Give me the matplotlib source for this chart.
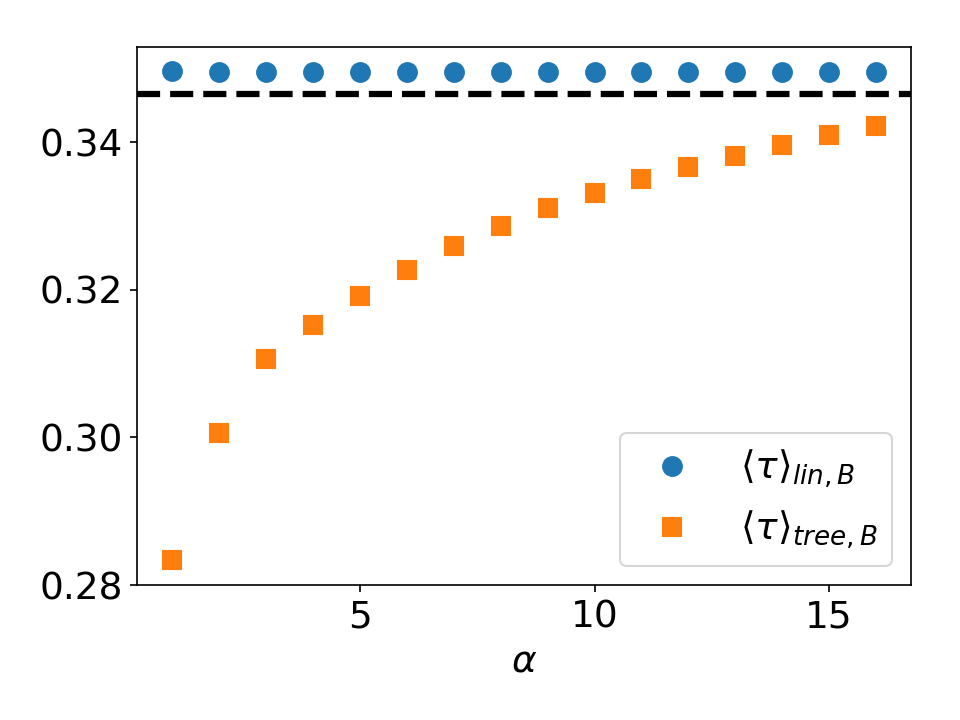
import numpy as np
import matplotlib
matplotlib.use("Agg")
import matplotlib.pyplot as plt

alpha = np.arange(1, 17)
tau_lin = [0.34966, 0.34953, 0.34952, 0.34952, 0.34952, 0.34952, 0.34952, 0.34952,
           0.34952, 0.34952, 0.34952, 0.34952, 0.34952, 0.34952, 0.34952, 0.34952]
tau_tree = [0.2834, 0.3006, 0.3107, 0.3152, 0.3192, 0.3227, 0.3260, 0.3287,
            0.3311, 0.3332, 0.3351, 0.3367, 0.3381, 0.3396, 0.3410, 0.3422]
ref_value = np.log(2) / 2
xticks = [5, 10, 15]
yticks = [0.28, 0.30, 0.32, 0.34]

fig, ax = plt.subplots(figsize=(6.4, 4.8), dpi=150)
ax.plot(alpha, tau_lin, 'o', color='#1f77b4', markersize=9,
        label=r'$\langle\tau\rangle_{lin,B}$')
ax.plot(alpha, tau_tree, 's', color='#ff7f0e', markersize=9,
        label=r'$\langle\tau\rangle_{tree,B}$')
ax.axhline(ref_value, color='k', linestyle='--', linewidth=3)
ax.set_xlabel(r'$\alpha$', fontsize=18)
ax.tick_params(labelsize=18)
ax.set_xticks(xticks)
ax.set_yticks(yticks)
ax.legend(loc='lower right', fontsize=18)
fig.subplots_adjust(left=0.143, right=0.949, top=0.935, bottom=0.1875)
fig.savefig('out.png', dpi=150)
